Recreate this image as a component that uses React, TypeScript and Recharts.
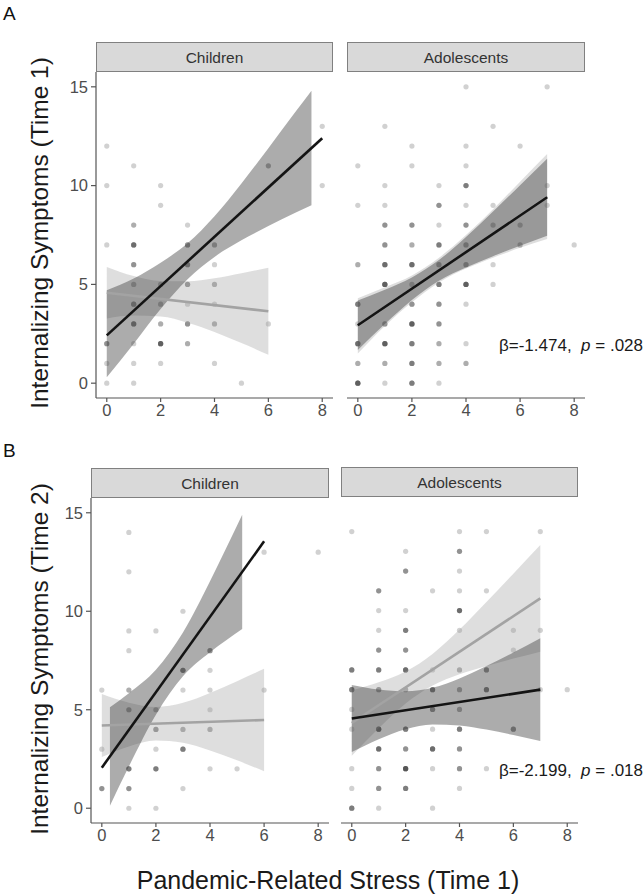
import React from "react";
import { ComposedChart, Scatter, Area, Line, XAxis, YAxis } from "recharts";

// [x, y, count] -- count = how many observations overlap at that grid point
type Pt = [number, number, number];
type Band = [number, number, number]; // x, lower, upper
type LinePt = [number, number];

const xTicks = [0, 2, 4, 6, 8];
const yTicks = [0, 5, 10, 15];

// ---- Panel A: Time 1 ----
const ptsAChildren: Pt[] = [
  [0, 12, 1], [1, 11, 1], [0, 10, 1], [2, 10, 1], [2, 9, 1], [1, 8, 2], [3, 8, 1],
  [0, 7, 1], [1, 7, 5], [3, 7, 3], [4, 7, 2], [1, 6, 3], [3, 6, 3], [4, 6, 1],
  [1, 5, 2], [2, 5, 2], [3, 5, 3], [4, 5, 2], [1, 4, 4], [2, 4, 2], [3, 4, 1], [4, 4, 1],
  [1, 3, 4], [2, 3, 2], [3, 3, 3], [4, 3, 2], [6, 3, 1], [0, 2, 3], [1, 2, 1], [2, 2, 6],
  [3, 2, 2], [0, 1, 1], [1, 1, 1], [2, 1, 1], [4, 1, 1], [0, 0, 1], [1, 0, 1], [5, 0, 1],
  [6, 11, 2], [8, 13, 1], [8, 10, 1],
];
const darkBandAChildren: Band[] = [
  [0, 0.3, 4.7], [1, 2.0, 5.3], [2, 3.75, 6.1], [3, 5.26, 7.08], [4, 6.39, 8.45],
  [5, 7.23, 10.11], [6, 7.95, 11.89], [7, 8.62, 13.72], [7.6, 9.0, 14.8],
];
const lightBandAChildren: Band[] = [
  [0, 3.28, 5.88], [1, 3.42, 5.42], [2, 3.37, 5.17], [3, 3.06, 5.16], [4, 2.59, 5.31],
  [5, 2.03, 5.57], [6, 1.44, 5.84],
];
const darkLineAChildren: LinePt[] = [[0, 2.42], [8, 12.4]];
const lightLineAChildren: LinePt[] = [[0, 4.58], [6, 3.64]];

const ptsAAdolescents: Pt[] = [
  [4, 15, 1], [7, 15, 1], [1, 13, 1], [5, 13, 1], [2, 12, 1], [4, 12, 1], [6, 12, 1],
  [0, 11, 1], [2, 11, 1], [4, 11, 1], [1, 10, 1], [3, 10, 1], [4, 10, 4], [7, 10, 1],
  [0, 9, 1], [1, 9, 1], [3, 9, 3], [4, 9, 1], [5, 9, 1], [7, 9, 1],
  [1, 8, 3], [2, 8, 3], [3, 8, 1], [4, 8, 3], [5, 8, 2], [6, 8, 2],
  [1, 7, 3], [2, 7, 2], [3, 7, 4], [4, 7, 3], [6, 7, 2], [8, 7, 1],
  [0, 6, 2], [1, 6, 5], [2, 6, 5], [3, 6, 3], [4, 6, 3], [5, 6, 1],
  [1, 5, 6], [2, 5, 2], [3, 5, 4], [4, 5, 6], [5, 5, 1],
  [0, 4, 4], [2, 4, 3], [3, 4, 3], [4, 4, 1],
  [0, 3, 1], [1, 3, 3], [2, 3, 6], [3, 3, 3],
  [0, 2, 5], [1, 2, 6], [2, 2, 4], [3, 2, 2], [4, 2, 1],
  [0, 1, 2], [1, 1, 2], [2, 1, 4], [3, 1, 2], [4, 1, 2],
  [0, 0, 6], [1, 0, 1], [2, 0, 4], [3, 0, 1],
];
const darkBandAAdolescents: Band[] = [
  [0, 1.68, 4.18], [1, 2.99, 4.73], [2, 4.21, 5.35], [3, 5.19, 6.23], [4, 5.86, 7.4],
  [5, 6.43, 8.69], [6, 6.96, 10.02], [7, 7.46, 11.36],
];
const lightBandAAdolescents: Band[] = [
  [0, 1.5, 4.3], [1, 2.9, 4.85], [2, 4.1, 5.45], [3, 5.1, 6.35], [4, 5.8, 7.5],
  [5, 6.35, 8.8], [6, 6.85, 10.2], [7, 7.3, 11.6],
];
const darkLineAAdolescents: LinePt[] = [[0, 2.93], [7, 9.41]];
const lightLineAAdolescents: LinePt[] = [[0, 2.9], [7, 9.45]];

// ---- Panel B: Time 2 ----
const ptsBChildren: Pt[] = [
  [1, 14, 1], [1, 12, 1], [3, 10, 1], [1, 9, 1], [2, 9, 1], [1, 8, 1], [4, 8, 3],
  [3, 7, 4], [4, 7, 1], [0, 6, 1], [1, 6, 2], [3, 6, 1], [4, 6, 1], [6, 6, 1],
  [1, 5, 3], [2, 5, 2], [4, 5, 1], [2, 4, 3], [3, 4, 2], [4, 4, 2],
  [0, 3, 1], [2, 3, 1], [3, 3, 4], [1, 2, 4], [2, 2, 4], [4, 2, 1], [5, 2, 1],
  [0, 1, 3], [1, 1, 3], [3, 1, 1], [1, 0, 1], [2, 0, 1], [6, 13, 1], [8, 13, 1],
];
const darkBandBChildren: Band[] = [
  [0.3, 0.13, 5.13], [1, 2.12, 5.84], [2, 4.75, 7.03], [3, 6.7, 8.92], [4, 7.92, 11.52],
  [4.6, 8.53, 13.21], [5.19, 9.1, 14.9],
];
const lightBandBChildren: Band[] = [
  [0, 2.6, 5.8], [1, 3.14, 5.36], [2, 3.44, 5.14], [3, 3.33, 5.35], [4, 2.93, 5.85],
  [5, 2.43, 6.45], [6, 1.88, 7.08],
];
const darkLineBChildren: LinePt[] = [[0, 2.06], [6, 13.55]];
const lightLineBChildren: LinePt[] = [[0, 4.2], [6, 4.48]];

const ptsBAdolescents: Pt[] = [
  [0, 14, 1], [4, 14, 1], [5, 14, 1], [7, 14, 1], [2, 13, 1], [4, 13, 3],
  [2, 12, 3], [4, 12, 1], [1, 11, 3], [3, 11, 1], [4, 11, 1], [5, 11, 1],
  [1, 10, 1], [2, 10, 1], [4, 10, 5], [1, 9, 1], [2, 9, 4], [4, 9, 1], [6, 9, 1], [7, 9, 1],
  [1, 8, 3], [2, 8, 3], [6, 8, 1],
  [0, 7, 4], [1, 7, 4], [2, 7, 5], [3, 7, 1], [4, 7, 2], [5, 7, 3],
  [0, 6, 4], [1, 6, 3], [2, 6, 2], [3, 6, 4], [4, 6, 2], [5, 6, 4], [7, 6, 1], [8, 6, 1],
  [0, 5, 1], [3, 5, 3], [4, 5, 2],
  [0, 4, 1], [1, 4, 5], [2, 4, 4], [3, 4, 1], [4, 4, 4], [6, 4, 3],
  [1, 3, 5], [2, 3, 3], [3, 3, 5], [4, 3, 3],
  [0, 2, 1], [1, 2, 3], [2, 2, 7], [3, 2, 1], [4, 2, 3], [5, 2, 1],
  [0, 1, 1], [1, 1, 3], [2, 1, 4], [4, 1, 1],
  [0, 0, 4], [1, 0, 1], [3, 0, 1],
];
const darkBandBAdolescents: Band[] = [
  [0, 2.84, 6.24], [1, 3.49, 6.01], [2, 4.0, 5.92], [3, 4.24, 6.1], [4, 4.19, 6.57],
  [5, 3.98, 7.2], [6, 3.7, 7.88], [7, 3.4, 8.6],
];
const lightBandBAdolescents: Band[] = [
  [0, 2.66, 5.96], [1, 4.05, 6.37], [2, 5.3, 6.92], [3, 6.21, 7.81], [4, 6.78, 9.04],
  [5, 7.2, 10.44], [6, 7.57, 11.87], [7, 7.92, 13.32],
];
const darkLineBAdolescents: LinePt[] = [[0, 4.54], [7, 6.0]];
const lightLineBAdolescents: LinePt[] = [[0, 4.31], [7, 10.62]];

const FONT = "'Liberation Sans', Arial, Helvetica, sans-serif";
const Y_AXIS_W = 40;
const X_AXIS_H = 30;

const expand = (pts: Pt[]) =>
  pts.flatMap(([x, y, n]) => Array.from({ length: n }, () => ({ x, y })));
const toBand = (b: Band[]) => b.map(([x, lo, hi]) => ({ x, r: [lo, hi] }));
const toLine = (l: LinePt[]) => l.map(([x, v]) => ({ x, v }));

const Dot = (props: any) => (
  <circle cx={props.cx} cy={props.cy} r={2.6} fill="#3a3a3a" fillOpacity={0.23} />
);

type PanelProps = {
  left: number;
  top: number;
  w: number;
  h: number;
  showY: boolean;
  pts: Pt[];
  darkBand: Band[];
  lightBand: Band[];
  darkLine: LinePt[];
  lightLine: LinePt[];
};

function Panel({ left, top, w, h, showY, pts, darkBand, lightBand, darkLine, lightLine }: PanelProps) {
  const yw = showY ? Y_AXIS_W : 0;
  const tick = { fontSize: 16.5, fill: "#4d4d4d", fontFamily: FONT };
  return (
    <div style={{ position: "absolute", left: left - yw, top }}>
      <ComposedChart width={w + yw} height={h + X_AXIS_H} margin={{ top: 0, right: 0, bottom: 0, left: 0 }}>
        <XAxis
          type="number"
          dataKey="x"
          domain={[-0.4, 8.4]}
          ticks={xTicks}
          allowDataOverflow
          height={X_AXIS_H}
          tick={tick}
          tickSize={4}
          tickMargin={2}
          axisLine={{ stroke: "#555", strokeWidth: 1.2 }}
          tickLine={{ stroke: "#555", strokeWidth: 1.2 }}
        />
        <YAxis
          type="number"
          dataKey="y"
          domain={[-0.75, 15.75]}
          ticks={yTicks}
          allowDataOverflow
          hide={!showY}
          width={Y_AXIS_W}
          tick={tick}
          tickSize={5}
          tickMargin={3}
          axisLine={{ stroke: "#555", strokeWidth: 1.2 }}
          tickLine={{ stroke: "#555", strokeWidth: 1.2 }}
        />
        <Scatter data={expand(pts)} shape={Dot} zIndex={50} isAnimationActive={false} />
        <Area
          data={toBand(lightBand)}
          dataKey="r"
          type="monotone"
          stroke="none"
          fill="#a0a0a0"
          fillOpacity={0.35}
          isAnimationActive={false}
        />
        <Area
          data={toBand(darkBand)}
          dataKey="r"
          type="monotone"
          stroke="none"
          fill="#3a3a3a"
          fillOpacity={0.42}
          isAnimationActive={false}
        />
        <Line
          data={toLine(lightLine)}
          dataKey="v"
          type="linear"
          stroke="#a3a3a3"
          strokeWidth={2.6}
          dot={false}
          isAnimationActive={false}
        />
        <Line
          data={toLine(darkLine)}
          dataKey="v"
          type="linear"
          stroke="#141414"
          strokeWidth={2.6}
          dot={false}
          isAnimationActive={false}
        />
      </ComposedChart>
    </div>
  );
}

function Strip({ x, y, w, h, label }: { x: number; y: number; w: number; h: number; label: string }) {
  return (
    <g>
      <rect x={x + 0.5} y={y + 0.5} width={w - 1} height={h - 1} fill="#d9d9d9" stroke="#808080" strokeWidth={1} />
      <text
        x={x + w / 2}
        y={y + h / 2 + 5.5}
        textAnchor="middle"
        fontSize={15.5}
        fill="#333"
        fontFamily={FONT}
      >
        {label}
      </text>
    </g>
  );
}

export default function App() {
  return (
    <div style={{ position: "absolute", left: 0, top: 0, width: 644, height: 896, background: "#fff", fontFamily: FONT }}>
      <svg width={644} height={896} style={{ position: "absolute", left: 0, top: 0 }}>
        <text x={3} y={20} fontSize={19} fill="#111" fontFamily={FONT}>A</text>
        <text x={3} y={457} fontSize={19} fill="#111" fontFamily={FONT}>B</text>
        <Strip x={96} y={42} w={237} h={30} label="Children" />
        <Strip x={347} y={42} w={238} h={30} label="Adolescents" />
        <Strip x={91} y={468} w={238} h={30} label="Children" />
        <Strip x={341} y={467} w={237} h={30} label="Adolescents" />
        <text
          transform="translate(48, 233) rotate(-90)"
          textAnchor="middle"
          fontSize={24.5}
          fill="#1a1a1a"
          fontFamily={FONT}
        >
          Internalizing Symptoms (Time 1)
        </text>
        <text
          transform="translate(48, 659) rotate(-90)"
          textAnchor="middle"
          fontSize={24.5}
          fill="#1a1a1a"
          fontFamily={FONT}
        >
          Internalizing Symptoms (Time 2)
        </text>
        <text x={328} y={889} textAnchor="middle" fontSize={25} fill="#1a1a1a" fontFamily={FONT}>
          Pandemic-Related Stress (Time 1)
        </text>
        <text x={643} y={351} textAnchor="end" fontSize={17} fill="#1a1a1a" fontFamily={FONT} style={{ whiteSpace: "pre" }}>
          {"β=-1.474,  "}
          <tspan fontStyle="italic">p</tspan>
          {" = .028"}
        </text>
        <text x={643} y={776} textAnchor="end" fontSize={17} fill="#1a1a1a" fontFamily={FONT} style={{ whiteSpace: "pre" }}>
          {"β=-2.199,  "}
          <tspan fontStyle="italic">p</tspan>
          {" = .018"}
        </text>
      </svg>
      <Panel
        left={96}
        top={72}
        w={237}
        h={326}
        showY
        pts={ptsAChildren}
        darkBand={darkBandAChildren}
        lightBand={lightBandAChildren}
        darkLine={darkLineAChildren}
        lightLine={lightLineAChildren}
      />
      <Panel
        left={347}
        top={72}
        w={238}
        h={326}
        showY={false}
        pts={ptsAAdolescents}
        darkBand={darkBandAAdolescents}
        lightBand={lightBandAAdolescents}
        darkLine={darkLineAAdolescents}
        lightLine={lightLineAAdolescents}
      />
      <Panel
        left={91}
        top={498}
        w={238}
        h={325}
        showY
        pts={ptsBChildren}
        darkBand={darkBandBChildren}
        lightBand={lightBandBChildren}
        darkLine={darkLineBChildren}
        lightLine={lightLineBChildren}
      />
      <Panel
        left={341}
        top={497}
        w={237}
        h={326}
        showY={false}
        pts={ptsBAdolescents}
        darkBand={darkBandBAdolescents}
        lightBand={lightBandBAdolescents}
        darkLine={darkLineBAdolescents}
        lightLine={lightLineBAdolescents}
      />
    </div>
  );
}
